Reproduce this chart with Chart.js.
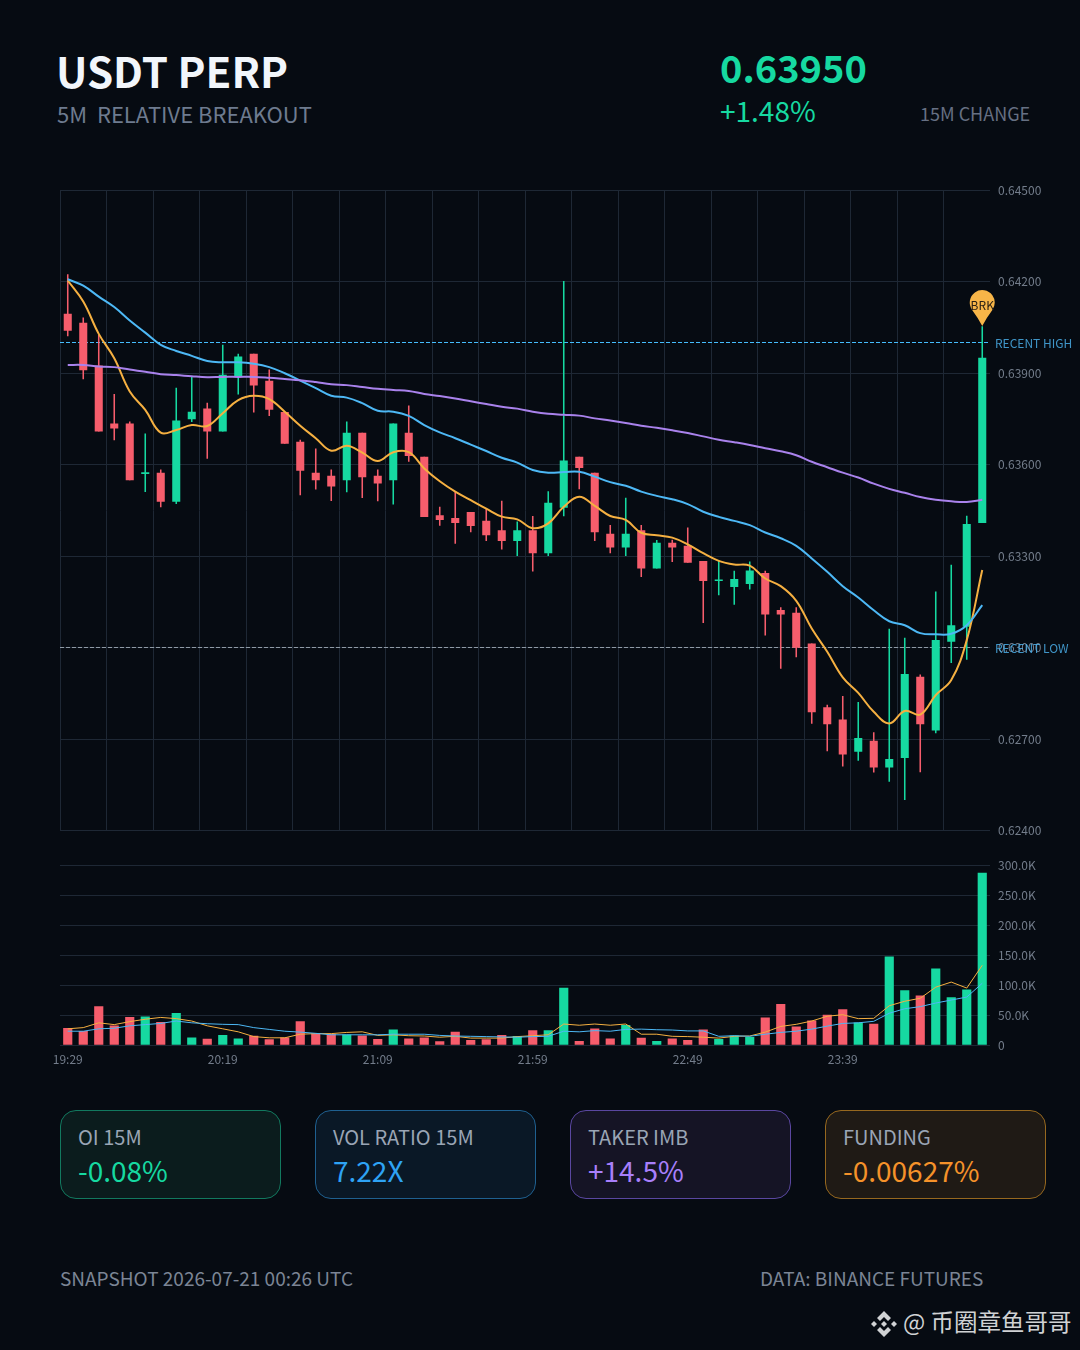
<!DOCTYPE html>
<html>
<head>
<meta charset="utf-8">
<script src="https://cdn.jsdelivr.net/npm/chart.js@4"></script>
<style>
    html, body { margin: 0; padding: 0; background: #060b12; }
    body { position: relative; width: 1080px; height: 1350px; overflow: hidden; font-family: "Noto Sans CJK SC", "Noto Sans", sans-serif; }
    canvas { position: absolute; left: 0; }
    #price-chart { top: 175px; }
    #volume-chart { top: 850px; }
    .txt { position: absolute; white-space: pre; line-height: 1; }
    #title { left: 56px; top: 49px; font-size: 42px; font-weight: 700; color: #f2f6fb; }
    #subtitle { left: 57px; top: 102px; font-size: 22px; color: #6e7b8f; }
    #price { left: 720px; top: 48px; font-size: 38px; font-weight: 700; color: #16d9a1; }
    #change { left: 720px; top: 96px; font-size: 28px; color: #16d9a1; }
    #change-label { left: 920px; top: 104px; font-size: 18px; color: #667083; }
    .card { position: absolute; top: 1110px; width: 219px; height: 87px; border: 1px solid; border-radius: 16px; }
    .card .lbl { position: absolute; left: 17px; top: 16px; font-size: 20px; line-height: 1; color: #9aa5b5; }
    .card .val { position: absolute; left: 17px; top: 45px; font-size: 28px; line-height: 1; }
    #snapshot { left: 60px; top: 1268px; font-size: 19px; color: #7b8595; }
    #source { left: 760px; top: 1268px; font-size: 19px; color: #7b8595; }
    #mark { left: 903px; top: 1310px; font-size: 23.5px; color: #d0d2d4; }
    #logo { position: absolute; left: 870px; top: 1310px; }
</style>
</head>
<body>
<div class="txt" id="title">USDT PERP</div>
<div class="txt" id="subtitle">5M  RELATIVE BREAKOUT</div>
<div class="txt" id="price">0.63950</div>
<div class="txt" id="change">+1.48%</div>
<div class="txt" id="change-label">15M CHANGE</div>

<canvas id="price-chart" width="1080" height="671"></canvas>
<canvas id="volume-chart" width="1080" height="230"></canvas>

<div id="cards"></div>

<div class="txt" id="snapshot">SNAPSHOT 2026-07-21 00:26 UTC</div>
<div class="txt" id="source">DATA: BINANCE FUTURES</div>
<svg id="logo" width="28" height="28" viewBox="0 0 28 28">
    <g fill="#d0d2d4">
        <polygon points="14,1 21,8 18,11 14,7 10,11 7,8"/>
        <polygon points="14,27 7,20 10,17 14,21 18,17 21,20"/>
        <polygon points="4,11 7,14 4,17 1,14"/>
        <polygon points="24,11 27,14 24,17 21,14"/>
        <polygon points="14,11 17,14 14,17 11,14"/>
    </g>
</svg>
<div class="txt" id="mark">@ 币圈章鱼哥哥</div>

<script>
const times = ["19:29","19:34","19:39","19:44","19:49","19:54","19:59","20:04","20:09","20:14",
    "20:19","20:24","20:29","20:34","20:39","20:44","20:49","20:54","20:59","21:04",
    "21:09","21:14","21:19","21:24","21:29","21:34","21:39","21:44","21:49","21:54",
    "21:59","22:04","22:09","22:14","22:19","22:24","22:29","22:34","22:39","22:44",
    "22:49","22:54","22:59","23:04","23:09","23:14","23:19","23:24","23:29","23:34",
    "23:39","23:44","23:49","23:54","23:59","00:04","00:09","00:14","00:19","00:24"];

const opens = [0.64094,0.64064,0.63924,0.63734,0.63734,0.63571,0.63573,0.63480,0.63750,0.63783,
    0.63710,0.63889,0.63963,0.63874,0.63772,0.63674,0.63573,0.63563,0.63550,0.63704,
    0.63563,0.63550,0.63704,0.63625,0.63433,0.63424,0.63444,0.63415,0.63384,0.63351,
    0.63384,0.63311,0.63460,0.63625,0.63573,0.63373,0.63330,0.63384,0.63261,0.63343,
    0.63333,0.63283,0.63220,0.63200,0.63210,0.63244,0.63123,0.63114,0.63013,0.62804,
    0.62764,0.62660,0.62694,0.62609,0.62640,0.62904,0.62730,0.63021,0.63070,0.63410];
const highs = [0.64223,0.64082,0.64026,0.63831,0.63741,0.63701,0.63583,0.63851,0.63889,0.63802,
    0.63992,0.63963,0.63963,0.63911,0.63772,0.63681,0.63652,0.63583,0.63741,0.63704,
    0.63583,0.63734,0.63793,0.63625,0.63461,0.63512,0.63444,0.63457,0.63481,0.63413,
    0.63431,0.63512,0.64201,0.63625,0.63573,0.63401,0.63491,0.63401,0.63352,0.63353,
    0.63393,0.63283,0.63285,0.63251,0.63282,0.63251,0.63132,0.63132,0.63013,0.62812,
    0.62841,0.62821,0.62722,0.63061,0.63032,0.62911,0.63183,0.63271,0.63432,0.64053];
const lows = [0.64022,0.63881,0.63710,0.63681,0.63550,0.63512,0.63462,0.63472,0.63741,0.63621,
    0.63710,0.63831,0.63772,0.63761,0.63670,0.63501,0.63520,0.63482,0.63511,0.63492,
    0.63481,0.63471,0.63611,0.63430,0.63401,0.63342,0.63380,0.63351,0.63323,0.63302,
    0.63251,0.63302,0.63432,0.63521,0.63351,0.63311,0.63302,0.63233,0.63261,0.63282,
    0.63280,0.63082,0.63173,0.63142,0.63192,0.63041,0.62932,0.62970,0.62752,0.62662,
    0.62612,0.62631,0.62592,0.62562,0.62502,0.62593,0.62721,0.62951,0.62962,0.63410];
const closes = [0.64040,0.63911,0.63710,0.63720,0.63550,0.63574,0.63480,0.63744,0.63773,0.63710,
    0.63894,0.63954,0.63861,0.63781,0.63670,0.63581,0.63550,0.63530,0.63704,0.63560,
    0.63540,0.63734,0.63630,0.63430,0.63420,0.63410,0.63400,0.63370,0.63351,0.63384,
    0.63311,0.63474,0.63613,0.63590,0.63380,0.63330,0.63373,0.63261,0.63343,0.63330,
    0.63280,0.63220,0.63223,0.63224,0.63252,0.63110,0.63110,0.63001,0.62790,0.62750,
    0.62651,0.62703,0.62609,0.62634,0.62913,0.62750,0.63024,0.63073,0.63405,0.63950];

const emaFast = [0.64204,0.64135,0.64029,0.63949,0.63840,0.63780,0.63705,0.63714,0.63730,0.63727,
    0.63769,0.63812,0.63826,0.63815,0.63774,0.63728,0.63687,0.63646,0.63662,0.63640,
    0.63612,0.63641,0.63641,0.63588,0.63546,0.63512,0.63484,0.63456,0.63430,0.63421,
    0.63392,0.63408,0.63462,0.63495,0.63465,0.63432,0.63419,0.63377,0.63369,0.63361,
    0.63339,0.63310,0.63285,0.63273,0.63269,0.63227,0.63202,0.63154,0.63063,0.62987,
    0.62903,0.62852,0.62790,0.62752,0.62793,0.62781,0.62845,0.62894,0.63025,0.63255];
const emaMid = [0.64208,0.64187,0.64151,0.64117,0.64073,0.64033,0.63993,0.63973,0.63957,0.63940,
    0.63936,0.63936,0.63931,0.63920,0.63900,0.63876,0.63851,0.63826,0.63820,0.63802,
    0.63777,0.63774,0.63760,0.63730,0.63706,0.63687,0.63666,0.63645,0.63623,0.63607,
    0.63583,0.63574,0.63576,0.63577,0.63561,0.63543,0.63531,0.63512,0.63498,0.63487,
    0.63471,0.63446,0.63429,0.63416,0.63402,0.63378,0.63359,0.63334,0.63293,0.63249,
    0.63202,0.63165,0.63123,0.63087,0.63074,0.63048,0.63044,0.63046,0.63074,0.63140];
const emaSlow = [0.63927,0.63927,0.63922,0.63920,0.63912,0.63905,0.63897,0.63894,0.63890,0.63887,
    0.63888,0.63888,0.63888,0.63885,0.63881,0.63877,0.63871,0.63864,0.63861,0.63855,
    0.63849,0.63845,0.63842,0.63832,0.63825,0.63817,0.63808,0.63799,0.63790,0.63784,
    0.63774,0.63767,0.63764,0.63761,0.63752,0.63745,0.63737,0.63728,0.63721,0.63713,
    0.63704,0.63693,0.63682,0.63674,0.63665,0.63654,0.63644,0.63631,0.63610,0.63592,
    0.63574,0.63558,0.63538,0.63521,0.63508,0.63494,0.63485,0.63480,0.63478,0.63485];

const volumes = [28000,23000,64000,32000,46000,47000,38000,53000,12000,10000,
    16000,10500,15000,9000,12000,39000,19000,18000,17000,15500,
    9500,25500,10500,12000,5500,21500,8000,9000,16000,14500,
    24000,24000,95000,6000,27000,10500,33000,11500,6000,10500,
    8000,25500,9500,15500,13000,45500,68000,30500,40500,50000,
    59000,37000,35000,147000,91000,82000,127000,79000,92000,287000];
const volFast = [27000,29000,37000,34000,39000,43000,46000,44000,40000,32000,
    27000,22000,14000,12000,12000,18000,19000,19000,21000,22000,
    16000,17000,15500,15000,13000,14500,11500,11500,11500,14000,
    15500,17000,35000,33000,35000,33000,35000,18000,18000,14500,
    14000,13000,11500,14500,15000,21500,31000,34500,40000,48000,
    50500,44000,44500,65500,73000,78000,96500,105000,95000,133000];
const volSlow = [23000,23000,27000,28000,32000,34000,36000,40000,37000,35500,
    34500,34000,29000,26000,23000,21500,19500,17000,17000,17000,
    17000,18000,18000,18000,16000,15000,14500,14000,13500,13000,
    14000,14500,23000,22000,24000,23000,26000,26500,25500,25000,
    23500,23500,14500,15500,14500,18000,21000,23000,26500,31500,
    36000,37000,39500,53000,60500,64000,70000,75000,80000,103000];

const priceTicks = [0.624, 0.627, 0.630, 0.633, 0.636, 0.639, 0.642, 0.645];
const volumeTicks = [0, 50000, 100000, 150000, 200000, 250000, 300000];
const recentHigh = 0.64;
const recentLow = 0.63;
const breakoutLabel = "BRK";

const cardLabels = ["OI 15M", "VOL RATIO 15M", "TAKER IMB", "FUNDING"];
const cardValues = ["-0.08%", "7.22X", "+14.5%", "-0.00627%"];
const cardLeft = [60, 315, 570, 825];
const cardText = ["#16d9a1", "#2ea3f5", "#a87ffb", "#f5922a"];
const cardBack = ["#0b1c1d", "#0a1826", "#151425", "#1f1a15"];
const cardEdge = ["#12795f", "#1f6090", "#5a47a0", "#96681f"];

const GREEN = "#16d9a1";
const RED = "#f65d6c";
const ORANGE = "#f5b041";
const BLUE = "#4db8f5";
const PURPLE = "#a982ec";
const GRID = "#1e2835";
const TICK = "#737d8b";
const FONT = "'Noto Sans CJK SC', 'Noto Sans', sans-serif";

Chart.defaults.font.family = FONT;
Chart.defaults.animation = false;

const candleColors = opens.map((o, i) => closes[i] >= o ? GREEN : RED);

function overlayLine(data, color, width, tension) {
    return {
        type: "line",
        data: data,
        borderColor: color,
        borderWidth: width,
        pointRadius: 0,
        tension: tension,
        order: 1
    };
}

// levels go under the candles, their labels and the pin on top
const levelsPlugin = {
    id: "levels",
    beforeDatasetsDraw(chart) {
        const { ctx, chartArea, scales } = chart;
        ctx.save();
        ctx.lineWidth = 1;
        ctx.setLineDash([4, 2]);
        [[recentHigh, "#45bdfd"], [recentLow, "#8f9aa5"]].forEach(([value, color]) => {
            const y = Math.round(scales.y.getPixelForValue(value)) - 0.5;
            ctx.strokeStyle = color;
            ctx.beginPath();
            ctx.moveTo(chartArea.left, y);
            ctx.lineTo(chartArea.right, y);
            ctx.stroke();
        });
        ctx.restore();
    },
    afterDraw(chart) {
        const { ctx, scales } = chart;
        ctx.save();
        ctx.font = "12px " + FONT;
        ctx.textBaseline = "middle";
        ctx.fillStyle = "rgba(77, 184, 245, 0.8)";
        ctx.fillText("RECENT HIGH", 995, scales.y.getPixelForValue(recentHigh) + 1);
        ctx.fillText("RECENT LOW", 995, scales.y.getPixelForValue(recentLow) + 1);

        const last = times.length - 1;
        const px = scales.x.getPixelForValue(last);
        const tip = scales.y.getPixelForValue(highs[last]) - 0.5;
        const r = 12.5;
        const cy = tip - 23.5;
        ctx.fillStyle = "#f7b548";
        ctx.beginPath();
        ctx.arc(px, cy, r, Math.PI * 0.8, Math.PI * 0.2);
        ctx.quadraticCurveTo(px + 4, tip - 8, px, tip);
        ctx.quadraticCurveTo(px - 4, tip - 8, px + r * Math.cos(Math.PI * 0.8), cy + r * Math.sin(Math.PI * 0.8));
        ctx.fill();
        ctx.fillStyle = "#2a2114";
        ctx.textAlign = "center";
        ctx.fillText(breakoutLabel, px, cy + 3);
        ctx.restore();
    }
};

new Chart(document.getElementById("price-chart"), {
    type: "bar",
    data: {
        labels: times,
        datasets: [
            {
                data: lows.map((l, i) => [l, highs[i]]),
                backgroundColor: candleColors,
                barThickness: 0.9,
                grouped: false,
                order: 3
            },
            {
                data: opens.map((o, i) => [o, closes[i]]),
                backgroundColor: candleColors,
                barThickness: 7.4,
                grouped: false,
                order: 2
            },
            overlayLine(emaSlow, PURPLE, 2, 0.4),
            overlayLine(emaMid, BLUE, 2, 0.4),
            overlayLine(emaFast, ORANGE, 2, 0.4)
        ]
    },
    options: {
        responsive: false,
        devicePixelRatio: 1,
        layout: { padding: { left: 60 } },
        plugins: { legend: { display: false }, tooltip: { enabled: false } },
        scales: {
            x: {
                offset: true,
                ticks: { display: false, autoSkip: false },
                grid: {
                    offset: true,
                    drawTicks: false,
                    color: ctx => ctx.index % 3 === 0 ? GRID : "transparent"
                },
                border: { display: false }
            },
            y: {
                position: "right",
                min: 0.624,
                max: 0.645,
                afterBuildTicks: scale => { scale.ticks = priceTicks.map(v => ({ value: v })); },
                afterFit: scale => { scale.width = 90; },
                ticks: {
                    color: TICK,
                    padding: 8,
                    font: { size: 12 },
                    callback: v => v.toFixed(5)
                },
                grid: { color: GRID, drawTicks: false },
                border: { display: false }
            }
        }
    },
    plugins: [levelsPlugin]
});

new Chart(document.getElementById("volume-chart"), {
    type: "bar",
    data: {
        labels: times,
        datasets: [
            {
                data: volumes,
                backgroundColor: candleColors,
                barThickness: 8.5,
                order: 2
            },
            overlayLine(volSlow, BLUE, 1, 0),
            overlayLine(volFast, ORANGE, 1, 0)
        ]
    },
    options: {
        responsive: false,
        devicePixelRatio: 1,
        layout: { padding: { left: 60, top: 15 } },
        plugins: { legend: { display: false }, tooltip: { enabled: false } },
        scales: {
            x: {
                offset: true,
                afterFit: scale => { scale.height = 35; },
                ticks: {
                    color: TICK,
                    autoSkip: false,
                    maxRotation: 0,
                    padding: 7,
                    font: { size: 12 },
                    callback: (v, i) => i % 10 === 0 ? times[i] : ""
                },
                grid: { display: false, drawTicks: false },
                border: { display: false }
            },
            y: {
                position: "right",
                min: 0,
                max: 300000,
                afterBuildTicks: scale => { scale.ticks = volumeTicks.map(v => ({ value: v })); },
                afterFit: scale => { scale.width = 90; },
                ticks: {
                    color: TICK,
                    padding: 8,
                    font: { size: 12 },
                    callback: v => v === 0 ? "0" : (v / 1000).toFixed(1) + "K"
                },
                grid: { color: GRID, drawTicks: false },
                border: { display: false }
            }
        }
    }
});

const cards = document.getElementById("cards");
cardLabels.forEach((label, i) => {
    const card = document.createElement("div");
    card.className = "card";
    card.style.left = cardLeft[i] + "px";
    card.style.background = cardBack[i];
    card.style.borderColor = cardEdge[i];
    card.innerHTML = `<div class="lbl">${label}</div><div class="val" style="color:${cardText[i]}">${cardValues[i]}</div>`;
    cards.appendChild(card);
});
</script>
</body>
</html>
